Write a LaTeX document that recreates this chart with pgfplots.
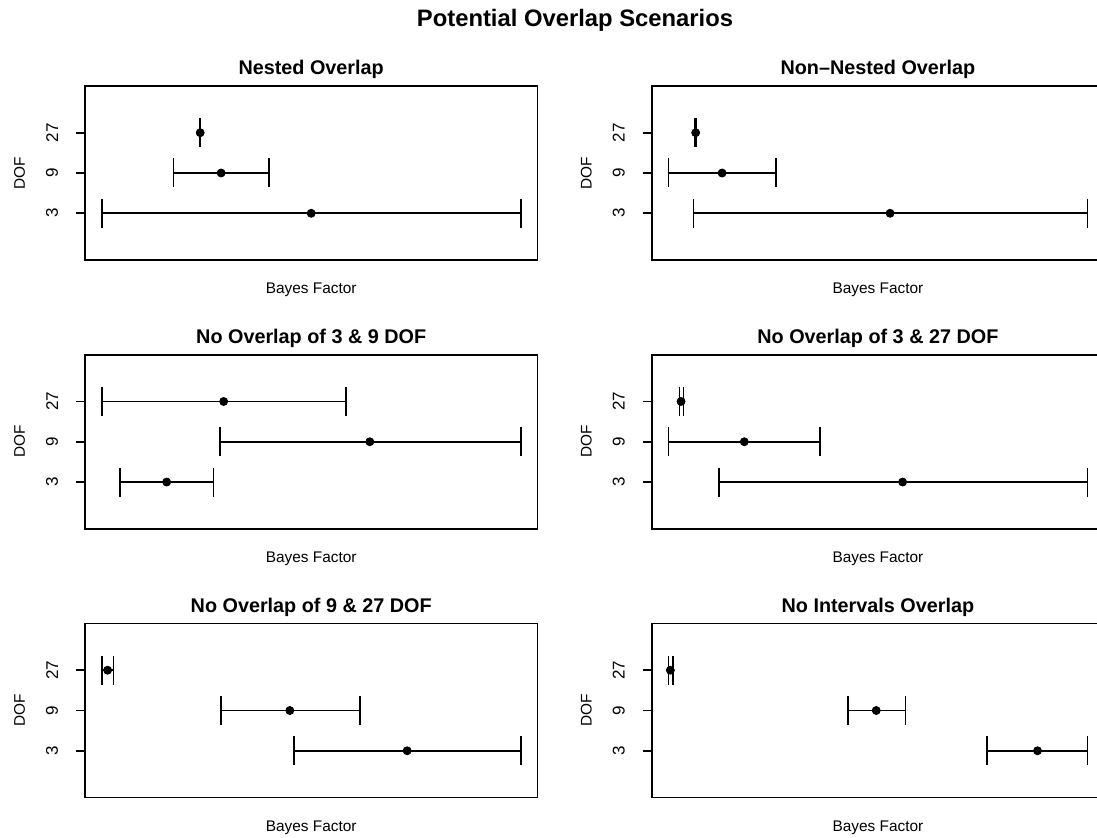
\documentclass[border=0pt]{standalone}
\usepackage{fontspec}
\setmainfont{Liberation Sans}
\usepackage{pgfplots}
\usepackage{pgfplotstable}
\pgfplotsset{compat=1.18}

% Interval estimates of the Bayes factor for 3, 9 and 27 degrees of freedom.
% pos: row on the DOF axis (1 = 3, 2 = 9, 3 = 27); mid: point estimate; lo/hi: interval ends.
\pgfplotstableread{
pos mid  lo   hi
3   23.5 23.3 23.6
2   28.5 17.1 39.9
1   50.0 0.0  100
}\nestedtbl
\pgfplotstableread{
pos mid  lo   hi
3   6.5  6.4  6.7
2   12.8 0.0  25.6
1   52.9 6.0  100
}\nonnestedtbl
\pgfplotstableread{
pos mid  lo   hi
3   29.1 0.0  58.3
2   64.0 28.2 100
1   15.5 4.4  26.7
}\nothreeninetbl
\pgfplotstableread{
pos mid  lo   hi
3   3.0  2.6  3.6
2   18.1 0.0  36.2
1   55.9 12.0 100
}\nothreetwentyseventbl
\pgfplotstableread{
pos mid  lo   hi
3   1.4  0.0  2.8
2   44.9 28.5 61.6
1   72.9 45.9 100
}\noninetwentyseventbl
\pgfplotstableread{
pos mid  lo   hi
3   0.45 0.0  1.05
2   49.6 42.9 56.6
1   88.1 76.0 100
}\nonetbl

\newcommand\axisfont{\fontsize{7.7}{9}\selectfont}

\pgfplotsset{
  dofpanel/.style={
    scale only axis, width=226.2pt, height=87pt, anchor=south west,
    xmin=-4, xmax=104, ymin=-0.16, ymax=4.16,
    xtick=\empty, ytick={1,2,3}, yticklabels={3,9,27},
    ytick pos=left, tick align=outside, major tick length=4.5pt,
    /pgf/number format/assume math mode=true,
    axis line style={line width=0.8pt},
    every tick/.style={black, line width=0.8pt},
    yticklabel shift=8.8pt,
    yticklabel style={rotate=90, anchor=south, inner sep=0pt,
                      font=\fontsize{8.5}{10}\selectfont},
    title style={at={(axis description cs:0.5,1)}, anchor=base, yshift=-0.5pt,
                 inner sep=0pt, font=\bfseries\fontsize{9.9}{12}\selectfont},
    xlabel={Bayes Factor},
    xlabel style={at={(axis description cs:0.5,0)}, anchor=base, yshift=-17pt,
                  inner sep=0pt, font=\axisfont},
    clip=false,
  },
  interval/.style={only marks, mark=none, black,
    error bars/.cd, x dir=both, x explicit, error mark=none,
    error bar style={black, line width=0.85pt}},
  cap/.style={only marks, black, mark=|, mark size=7.25pt,
    mark options={line width=0.85pt}},
  estimate/.style={only marks, black, mark=*, mark size=1.75pt},
}

% One panel: interval line, caps at both ends and the point estimate on top
\newcommand\intervals[1]{%
  \addplot[interval] table[x=mid, y=pos,
    x error plus expr=\thisrow{hi}-\thisrow{mid},
    x error minus expr=\thisrow{mid}-\thisrow{lo}] {#1};
  \addplot[cap] table[x=lo, y=pos] {#1};
  \addplot[cap] table[x=hi, y=pos] {#1};
  \addplot[estimate] table[x=mid, y=pos] {#1};
}

\begin{document}
\begin{tikzpicture}
\begin{axis}[dofpanel, at={(42.5pt,-130pt)}, title={Nested Overlap}]
  \intervals{\nestedtbl}
\end{axis}
\begin{axis}[dofpanel, at={(325.85pt,-130pt)}, title={Non\textendash Nested Overlap}]
  \intervals{\nonnestedtbl}
\end{axis}
\begin{axis}[dofpanel, at={(42.5pt,-264.375pt)}, title={No Overlap of 3 \& 9 DOF}]
  \intervals{\nothreeninetbl}
\end{axis}
\begin{axis}[dofpanel, at={(325.85pt,-264.375pt)}, title={No Overlap of 3 \& 27 DOF}]
  \intervals{\nothreetwentyseventbl}
\end{axis}
\begin{axis}[dofpanel, at={(42.5pt,-398.75pt)}, title={No Overlap of 9 \& 27 DOF}]
  \intervals{\noninetwentyseventbl}
\end{axis}
\begin{axis}[dofpanel, at={(325.85pt,-398.75pt)}, title={No Intervals Overlap}]
  \intervals{\nonetbl}
\end{axis}

% y axis titles
\foreach \x in {12.5pt, 295.85pt}
  \foreach \y in {-86.5pt, -220.875pt, -355.25pt}
    \node[rotate=90, anchor=base, inner sep=0pt, font=\axisfont] at (\x,\y) {DOF};

% overall title
\node[anchor=base, inner sep=0pt, font=\bfseries\fontsize{11.9}{14}\selectfont]
  at (287.5pt,-13.5pt) {Potential Overlap Scenarios};

\pgfresetboundingbox
\path[use as bounding box] (0pt,0pt) rectangle (548.5pt,-419pt);
\end{tikzpicture}
\end{document}
